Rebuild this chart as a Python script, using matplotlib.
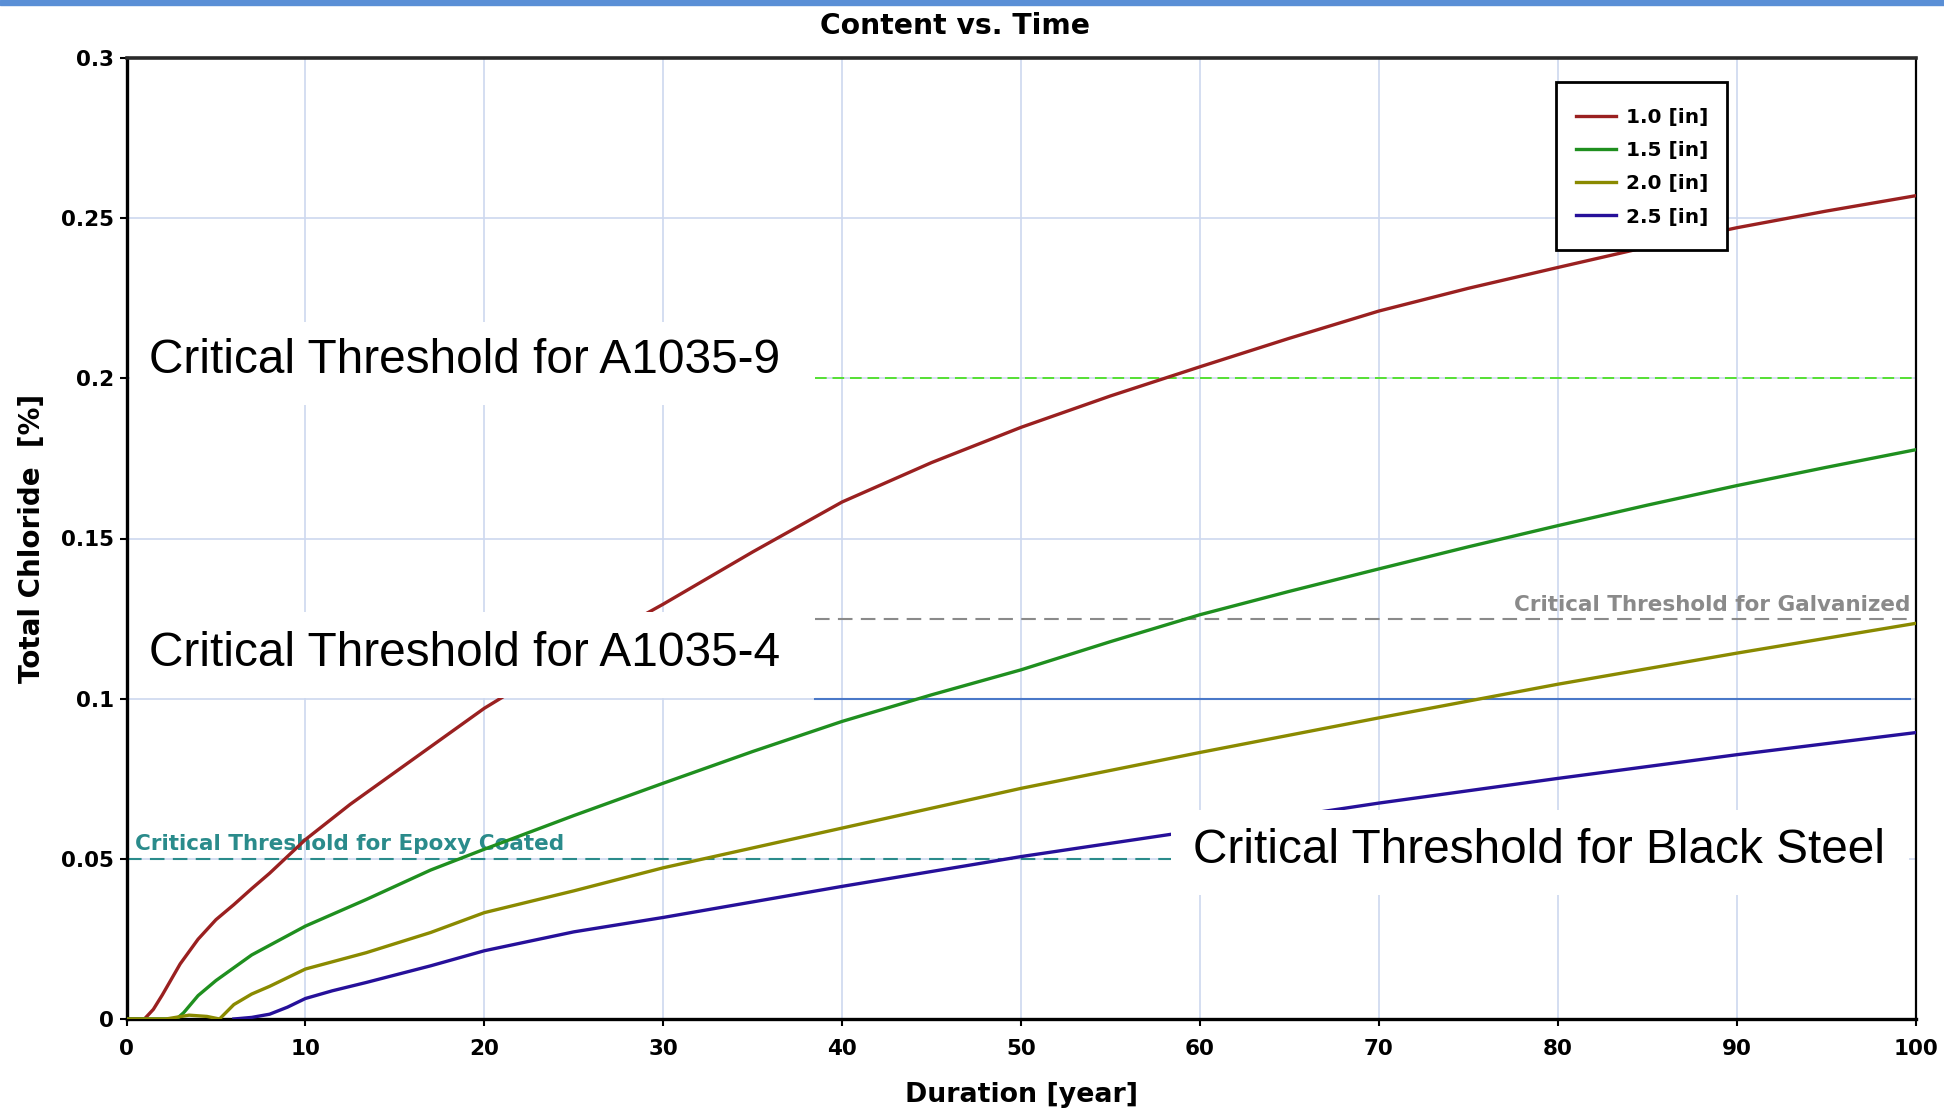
import matplotlib
matplotlib.use("Agg")
import matplotlib.pyplot as plt
from matplotlib.patches import Rectangle

# ---- data ----
red_x = [0, 1.0, 1.5, 2, 3, 4, 5, 6, 7, 8, 10, 12.5, 15, 17.5, 20, 25, 30, 35, 40, 45, 50, 55, 60, 65, 70,
         75, 80, 85, 90, 95, 100]
red_y = [0, 0, 0.003, 0.0075, 0.0172, 0.0249, 0.031, 0.0357, 0.0407, 0.0455, 0.056, 0.067, 0.077, 0.087,
         0.097, 0.114, 0.1295, 0.1458, 0.1614, 0.1737, 0.1847, 0.1945, 0.2036, 0.2125, 0.221, 0.2281,
         0.2346, 0.2410, 0.247, 0.2522, 0.257]
green_x = [0, 2.8, 3.2, 4, 5, 7, 10, 13.4, 17, 20, 25, 30, 35, 40, 45, 50, 55, 60, 65, 70, 75, 80, 85,
           90, 95, 100]
green_y = [0, 0, 0.002, 0.0073, 0.012, 0.020, 0.029, 0.0373, 0.0465, 0.053, 0.0635, 0.0736, 0.0835,
           0.0929, 0.1012, 0.109, 0.1178, 0.1262, 0.1335, 0.1405, 0.1474, 0.154, 0.1604, 0.1665, 0.1722,
           0.1777]
olive_x = [0, 2.2, 3.5, 4.5, 5.2, 6, 7, 8, 10, 13.4, 17, 20, 25, 30, 40, 50, 60, 70, 80, 90, 100]
olive_y = [0, 0, 0.0012, 0.0008, 0, 0.0045, 0.0078, 0.0102, 0.0156, 0.0207, 0.027, 0.0332, 0.040,
           0.0472, 0.0596, 0.072, 0.0832, 0.094, 0.1045, 0.1142, 0.1235]
blue_x = [6, 7, 8, 9, 10, 11.5, 13.4, 17, 20, 25, 30, 40, 50, 60, 70, 80, 90, 100]
blue_y = [0, 0.0005, 0.0015, 0.0037, 0.0064, 0.0088, 0.0114, 0.0166, 0.0213, 0.0272, 0.0317, 0.0414,
          0.0507, 0.0590, 0.0674, 0.0751, 0.0825, 0.0894]
series_labels = ["1.0 [in]", "1.5 [in]", "2.0 [in]", "2.5 [in]"]

thr_a1035_9 = 0.2
thr_galv = 0.125
thr_a1035_4 = 0.1
thr_epoxy = 0.05

x_ticks = [0, 10, 20, 30, 40, 50, 60, 70, 80, 90, 100]
y_ticks = [0, 0.05, 0.1, 0.15, 0.2, 0.25, 0.3]
y_ticklabels = ["0", "0.05", "0.1", "0.15", "0.2", "0.25", "0.3"]

# ---- figure ----
W, H = 1944, 1111
fig = plt.figure(figsize=(W / 100, H / 100), dpi=100)
fig.patch.set_facecolor("white")
fig.add_artist(Rectangle((0, 1 - 5 / H), 1, 5 / H, transform=fig.transFigure,
                         color="#5a8fd6", zorder=10))

ax = fig.add_axes([126.5 / W, 1 - 1019 / H, (1915.5 - 126.5) / W, (1019 - 58) / H])
ax.set_xlim(0, 100)
ax.set_ylim(0, 0.3)

bold = dict(family="DejaVu Sans", weight="bold")

ax.set_xticks(x_ticks)
ax.set_yticks(y_ticks)
ax.set_yticklabels(y_ticklabels)
for lab in ax.get_xticklabels() + ax.get_yticklabels():
    lab.set_fontfamily("DejaVu Sans")
    lab.set_fontweight("bold")
    lab.set_fontsize(15.5)
ax.tick_params(direction="out", length=5, width=1.5, color="black")
ax.tick_params(axis="x", pad=9.5)
ax.tick_params(axis="y", pad=4)

ax.grid(True, color="#cdd8ef", linewidth=1.2, zorder=0)
ax.set_axisbelow(True)

for s in ["left", "bottom"]:
    ax.spines[s].set_linewidth(2.4)
    ax.spines[s].set_color("black")
ax.spines["top"].set_linewidth(2.6)
ax.spines["top"].set_color("#2a2a2a")
ax.spines["right"].set_linewidth(1.6)
ax.spines["right"].set_color("black")

# threshold lines
ax.plot([38.5, 100], [thr_a1035_9, thr_a1035_9], color="#55e033", lw=1.4, ls=(0, (6, 3)), zorder=2)
ax.plot([38.5, 99.7], [thr_galv, thr_galv], color="#8a8a8a", lw=1.5, ls=(0, (7, 4)), zorder=2)
ax.plot([38.5, 99.7], [thr_a1035_4, thr_a1035_4], color="#4a78c8", lw=1.5, zorder=2)
ax.plot([0, 99.7], [thr_epoxy, thr_epoxy], color="#2a8b8b", lw=1.5, ls=(0, (7, 4)), zorder=2)

ax.text(99.7, thr_galv + 0.0012, "Critical Threshold for Galvanized", ha="right", va="bottom",
        color="#8a8a8a", fontsize=15.5, zorder=3, **bold)
ax.text(0.5, thr_epoxy + 0.0015, "Critical Threshold for Epoxy Coated", ha="left", va="bottom",
        color="#2a8b8b", fontsize=15.5, zorder=3, **bold)

# curves
lw = 2.4
ax.plot(red_x, red_y, color="#9a2020", lw=lw, label=series_labels[0], zorder=4)
ax.plot(green_x, green_y, color="#1f8f1f", lw=lw, label=series_labels[1], zorder=4)
ax.plot(olive_x, olive_y, color="#8a8a00", lw=lw, label=series_labels[2], zorder=4)
ax.plot(blue_x, blue_y, color="#26109a", lw=lw, label=series_labels[3], zorder=4)

# white label boxes
boxes = [(0.2, 0.1916, 38.5, 0.2176), (0.2, 0.1003, 38.5, 0.127), (58.4, 0.0387, 99.65, 0.0654)]
for x0, y0, x1, y1 in boxes:
    ax.add_patch(Rectangle((x0, y0), x1 - x0, y1 - y0, facecolor="white", edgecolor="none", zorder=6))

big = dict(family="Liberation Sans", fontsize=34.4, color="black", va="center", ha="left", zorder=7)
ax.text(1.25, 0.2056, "Critical Threshold for A1035-9", **big)
ax.text(1.25, 0.1142, "Critical Threshold for A1035-4", **big)
ax.text(59.6, 0.0527, "Critical Threshold for Black Steel", **big)

# legend frame drawn separately, legend entries without frame
ax.add_patch(Rectangle((0.799, 0.7998), 0.8946 - 0.799, 0.9753 - 0.7998, transform=ax.transAxes,
                       facecolor="white", edgecolor="black", linewidth=2, zorder=8))
leg = ax.legend(loc="upper left", bbox_to_anchor=(0.7949, 0.976), borderaxespad=0, frameon=False,
                handlelength=2.0, handletextpad=0.5, labelspacing=0.7, borderpad=1.35,
                prop=dict(family="DejaVu Sans", weight="bold", size=14.5))
leg.set_zorder(9)

ax.set_xlabel("Duration [year]", fontsize=19.3, labelpad=16.5, **bold)
ax.set_ylabel("Total Chloride  [%]", fontsize=20, labelpad=11, **bold)
fig.text(955 / W, 1 - 26 / H, "Content vs. Time", ha="center", va="center", fontsize=20.3, **bold)

fig.savefig("out.png", dpi=100, facecolor="white")
